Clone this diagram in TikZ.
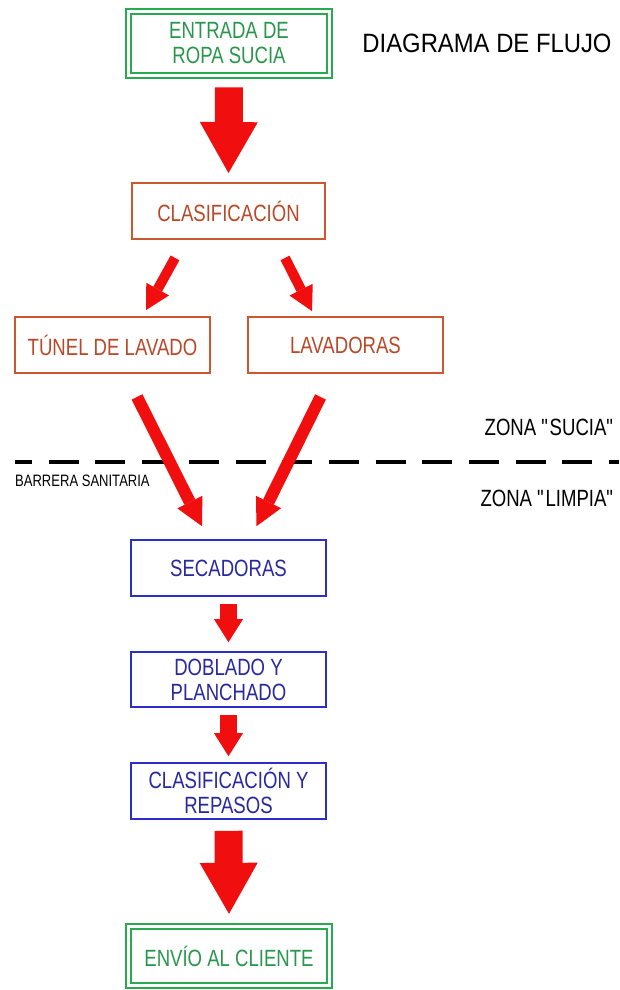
\documentclass[tikz,border=0pt]{standalone}
\usepackage{fontspec}
\setmainfont{Liberation Sans}[FakeStretch=0.79]
\newfontfamily\titlefont{Liberation Sans}[FakeStretch=0.9]
\usetikzlibrary{arrows.meta,calc}
\definecolor{rojo}{RGB}{240,14,14}
\definecolor{naranja}{RGB}{205,88,48}
\definecolor{naranjatxt}{RGB}{185,72,40}
\definecolor{azul}{RGB}{45,45,205}
\definecolor{azultxt}{RGB}{40,40,160}
\definecolor{verde}{RGB}{40,170,80}
\definecolor{verdetxt}{RGB}{40,150,75}
\begin{document}
\begin{tikzpicture}[x=1pt,y=-1pt,
  procbox/.style={draw, line width=1.8pt, minimum width=195pt, minimum height=56pt,
    inner sep=0pt, align=center, font=\fontsize{23.5}{25}\selectfont},
  orangebox/.style={procbox, draw=naranja, text=naranjatxt},
  bluebox/.style={procbox, draw=azul, text=azultxt, line width=1.6pt},
  greenbox/.style={procbox, draw=verde, text=verdetxt, double=white,
    double distance=3pt, line width=1.8pt, minimum width=201pt},
  bigarrow/.style={draw=rojo, line width=28pt,
    -{Triangle[width=58pt,length=51pt,line width=0pt]}},
  smallarrow/.style={draw=rojo, line width=17pt,
    -{Triangle[width=29pt,length=23pt,line width=0pt]}},
  diagarrow/.style={draw=rojo, line width=10pt,
    -{Triangle[width=26pt,length=24pt,line width=0pt]}},
  longarrow/.style={draw=rojo, line width=12pt,
    -{Triangle[width=28pt,length=27pt,line width=0pt]}},
  plainlabel/.style={inner sep=0pt, text=black},
]
\useasboundingbox (0,0) rectangle (619,990);

% boxes
\node[greenbox, minimum height=64pt] (entrada) at (229,43.5) {ENTRADA DE\\ROPA SUCIA};
\node[orangebox, minimum width=193pt] (clas) at (228.5,211) {CLASIFICACIÓN};
\node[orangebox] (tunel) at (112.5,345) {TÚNEL DE LAVADO};
\node[orangebox] (lav) at (345.5,345) {LAVADORAS};
\node[bluebox] (sec) at (228.5,568) {SECADORAS};
\node[bluebox, minimum height=55pt] (dob) at (228.5,679.5) {DOBLADO Y\\PLANCHADO};
\node[bluebox] (rep) at (228.5,791) {CLASIFICACIÓN Y\\REPASOS};
\node[greenbox, minimum height=58.5pt] (envio) at (229,956) {ENVÍO AL CLIENTE};

% labels
\node[plainlabel, font=\titlefont\fontsize{26.5}{30}\selectfont] (titulo) at (487,43.5) {DIAGRAMA DE FLUJO};
\node[plainlabel, anchor=east, font=\fontsize{23.5}{25}\selectfont] (sucia) at (615,427) {ZONA \textquotedbl SUCIA\textquotedbl};
\node[plainlabel, anchor=east, font=\fontsize{23.5}{25}\selectfont] (limpia) at (615,498) {ZONA \textquotedbl LIMPIA\textquotedbl};
\node[plainlabel, anchor=west, font=\fontsize{16.5}{18}\selectfont] (barrera) at (15,480.5) {BARRERA SANITARIA};

% sanitary barrier
\coordinate (bar1) at (15,462);
\coordinate (bar2) at (619,462);
\draw[line width=4pt, dash pattern=on 30pt off 16.7pt, dash phase=13pt] (bar1) -- (bar2);

% arrows
\draw[bigarrow] ($(entrada.south)+(0,11)$) -- ($(clas.north)+(0,-9)$);
\draw[diagarrow] ($(clas.south)+(-53.5,18)$) -- ($(tunel.north)+(33.5,-6)$);
\draw[diagarrow] ($(clas.south)+(56.5,18)$) -- ($(lav.north)+(-33.5,-5)$);
\draw[longarrow] ($(tunel.south)+(24.5,23)$) -- ($(sec.north)+(-26.5,-13)$);
\draw[longarrow] ($(lav.south)+(-25,23)$) -- ($(sec.north)+(28,-13)$);
\draw[smallarrow] ($(sec.south)+(0,7)$) -- ($(dob.north)+(0,-9)$);
\draw[smallarrow] ($(dob.south)+(0,7)$) -- ($(rep.north)+(0,-6)$);
\draw[bigarrow] ($(rep.south)+(0,11)$) -- ($(envio.north)+(0,-12)$);
\end{tikzpicture}
\end{document}
